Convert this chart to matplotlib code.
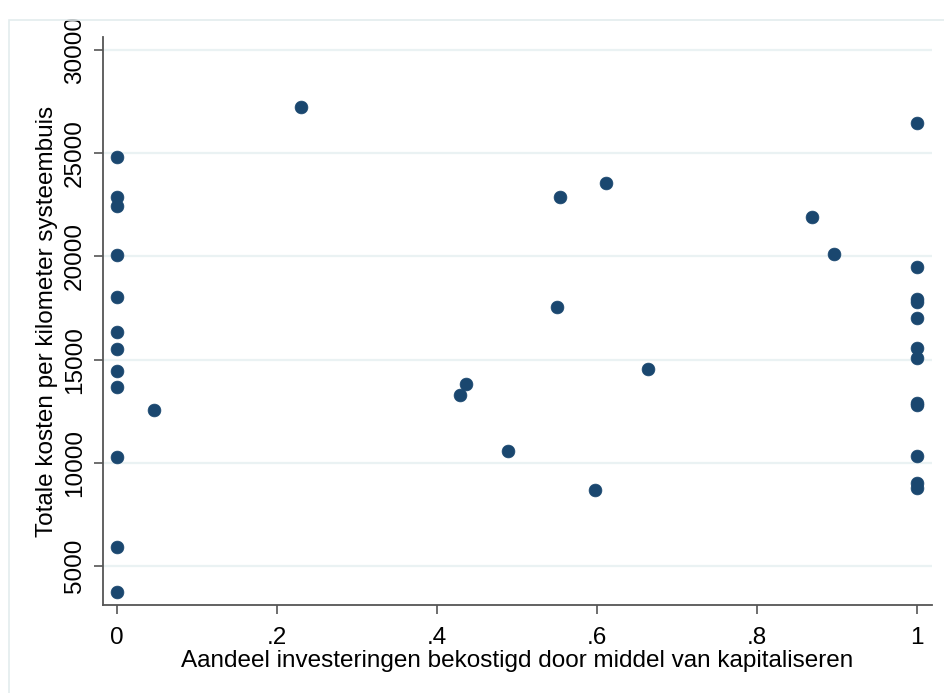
import matplotlib
matplotlib.use("Agg")
import matplotlib.pyplot as plt
from matplotlib.patches import Rectangle

plt.rcParams['font.family'] = ['Liberation Sans', 'DejaVu Sans']

# Data: share of investments financed by capitalising vs total cost per km
share = [0, 0, 0, 0, 0, 0, 0, 0, 0, 0, 0, 0,
         0.046, 0.23, 0.429, 0.436, 0.489, 0.55, 0.554, 0.598, 0.611, 0.664,
         0.869, 0.896,
         1, 1, 1, 1, 1, 1, 1, 1, 1, 1, 1, 1]
cost = [24820, 22880, 22440, 20060, 18020, 16350, 15520, 14430, 13680, 10260, 5940, 3750,
        12540, 27250, 13300, 13830, 10560, 17560, 22890, 8680, 23560, 14530,
        21890, 20120,
        26450, 19500, 17920, 17800, 17000, 15580, 15090, 12880, 12800, 10330, 9010, 8770]

x_ticks = [0, 0.2, 0.4, 0.6, 0.8, 1.0]
x_ticklabels = ['0', '.2', '.4', '.6', '.8', '1']
y_ticks = [5000, 10000, 15000, 20000, 25000, 30000]
y_ticklabels = ['5000', '10000', '15000', '20000', '25000', '30000']

W, H = 944, 693
fig = plt.figure(figsize=(W / 100, H / 100), dpi=100)
fig.patch.set_facecolor('white')

# outer light border of the graph region
fig.patches.append(Rectangle((9 / W, -0.01), 1.0, (H - 20) / H + 0.01,
                             transform=fig.transFigure, fill=False,
                             edgecolor='#e3ecee', linewidth=1.2))

left, right, top, bottom = 103, 932, 37, 605
ax = fig.add_axes([left / W, (H - bottom) / H, (right - left) / W, (bottom - top) / H])

ax.scatter(share, cost, s=85, color='#1a476f', edgecolors='#1a476f', linewidths=0.5, zorder=3)

ax.set_xlim(-0.0175, 1.01875)
ax.set_ylim(3110, 30630)

ax.set_xticks(x_ticks)
ax.set_xticklabels(x_ticklabels)
ax.set_yticks(y_ticks)
ax.set_yticklabels(y_ticklabels, rotation=90, va='center')

ax.grid(axis='y', color='#eaf2f3', linewidth=1.6, zorder=0)
ax.set_axisbelow(True)

for s in ['top', 'right']:
    ax.spines[s].set_visible(False)
for s in ['left', 'bottom']:
    ax.spines[s].set_color('#555555')
    ax.spines[s].set_linewidth(1.3)

ax.tick_params(axis='both', direction='out', length=6.5, width=1.2, color='#555555',
               labelsize=17.5, labelcolor='black')
ax.tick_params(axis='x', pad=9)
ax.tick_params(axis='y', pad=6)

ax.set_xlabel('Aandeel investeringen bekostigd door middel van kapitaliseren', fontsize=17.5, labelpad=1)
ax.set_ylabel('Totale kosten per kilometer systeembuis', fontsize=17.5, labelpad=4)

fig.savefig('out.png', dpi=100)
